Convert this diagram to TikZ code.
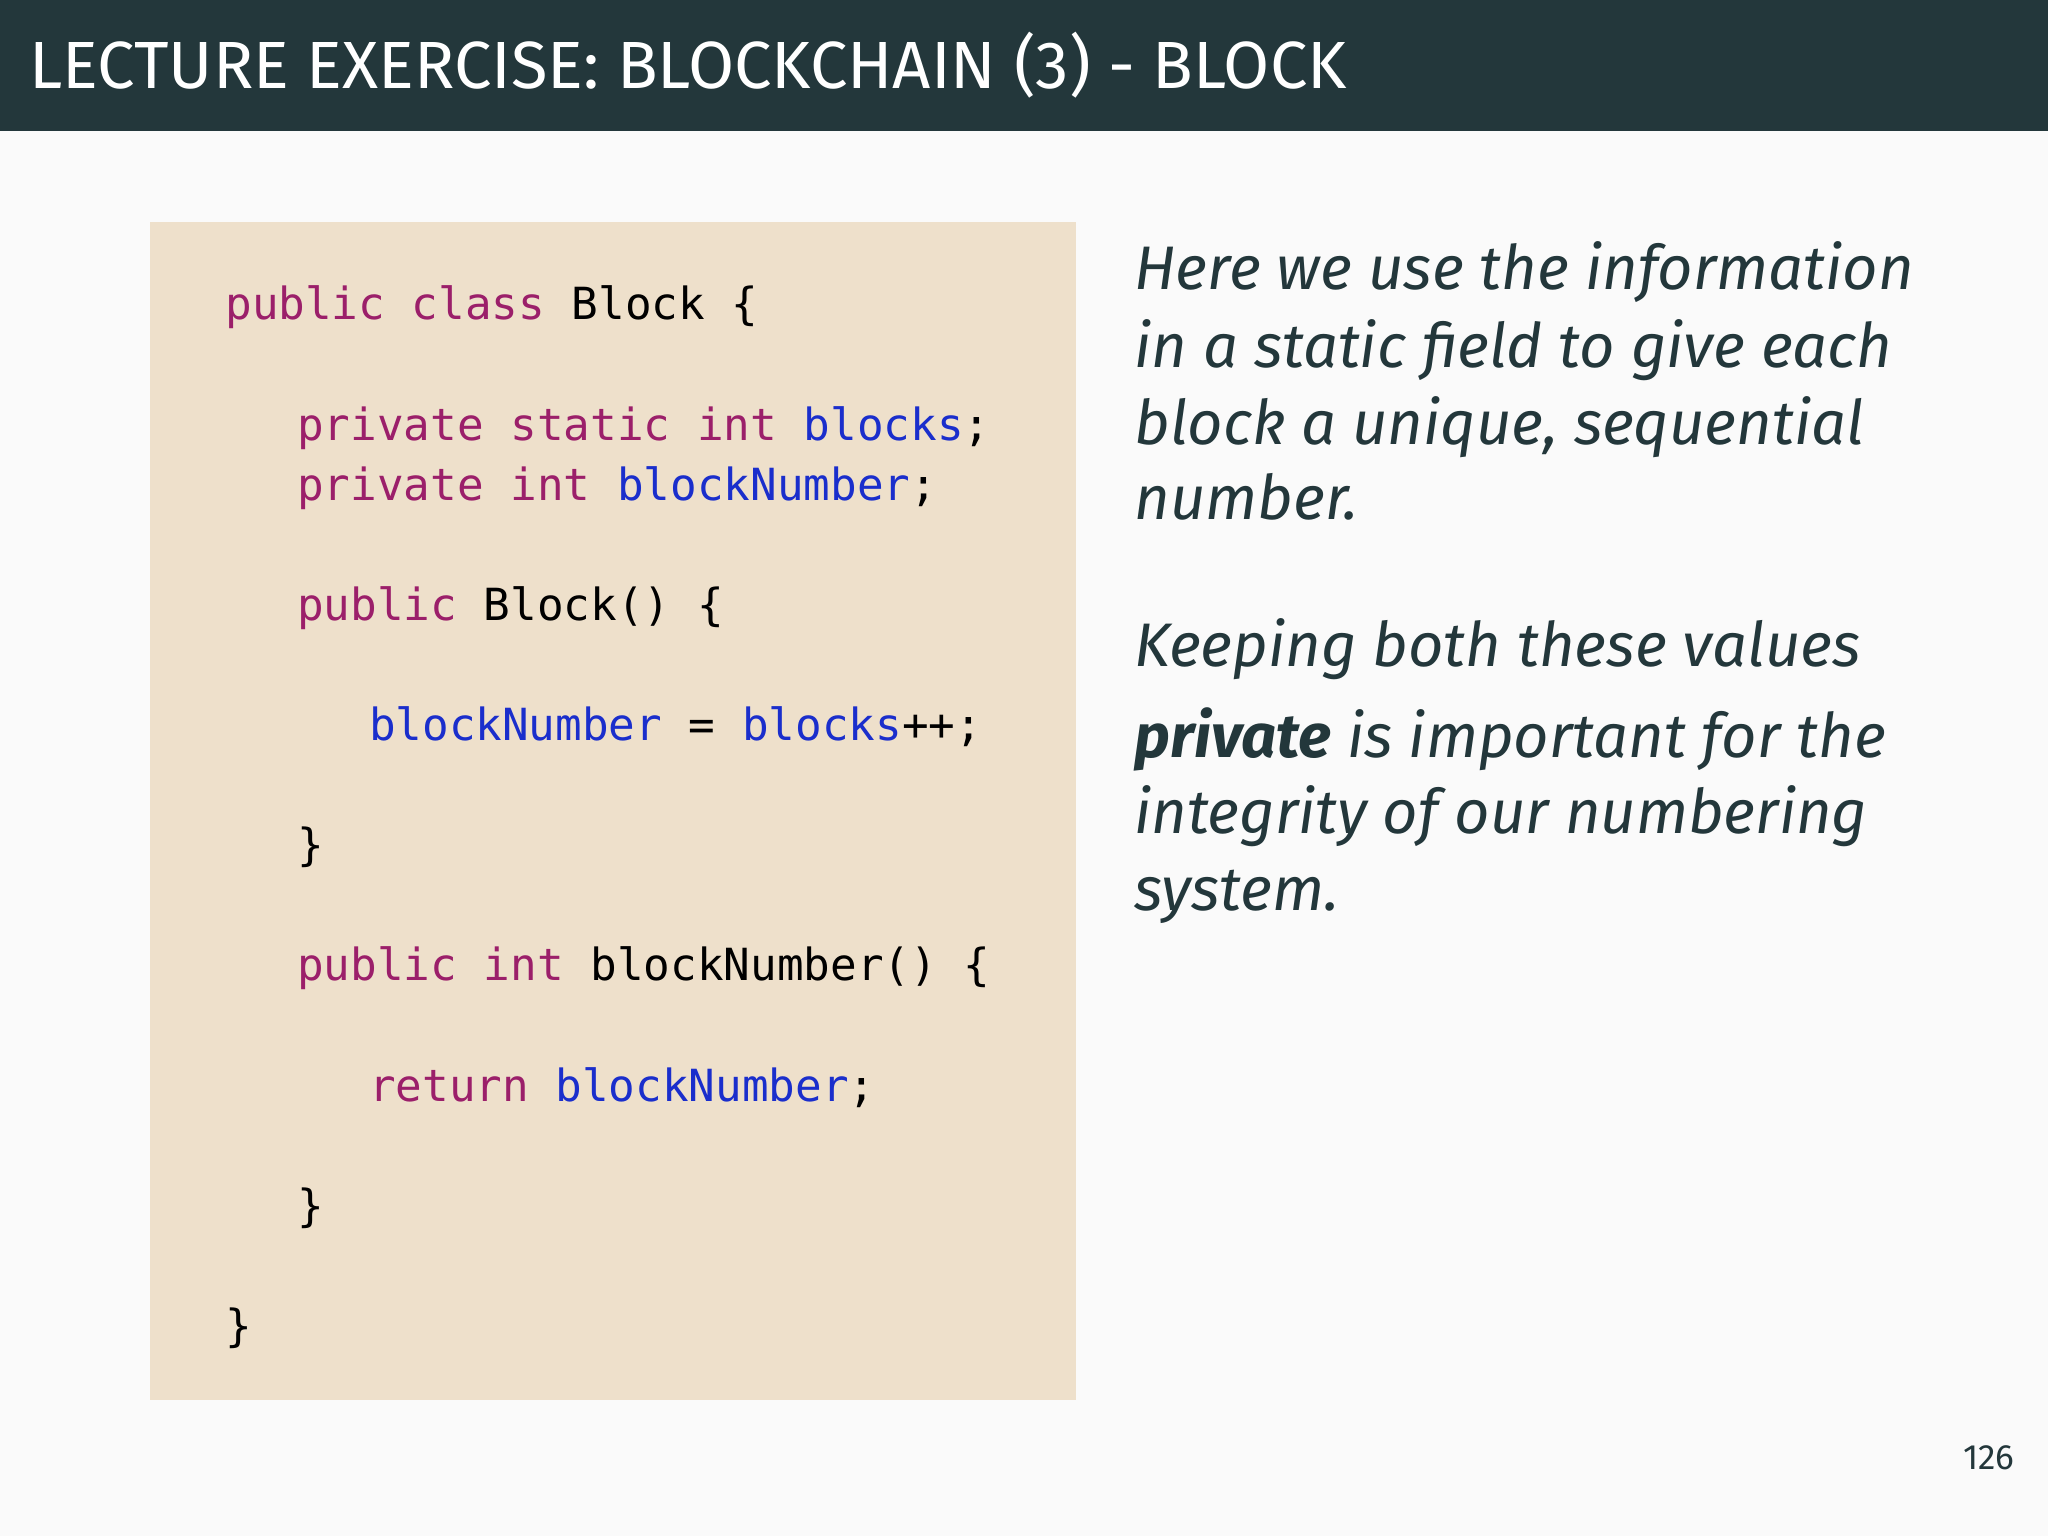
\documentclass[tikz,border=0pt]{standalone}
\usepackage{fontspec}
\setmainfont{Fira Sans}
\setmonofont{DejaVu Sans Mono}
\definecolor{titlebg}{HTML}{23373B}
\definecolor{pagebg}{HTML}{FAFAFA}
\definecolor{codebg}{HTML}{EEE0CB}
\definecolor{kw}{HTML}{9B1F6A}
\definecolor{idn}{HTML}{1A2ECC}
\definecolor{txt}{HTML}{23373B}
\newcommand{\K}[1]{\textcolor{kw}{#1}}
\newcommand{\I}[1]{\textcolor{idn}{#1}}
\begin{document}
\begin{tikzpicture}[x=0.01306cm,y=-0.01306cm,
  code/.style={anchor=base west,inner sep=0,font=\ttfamily\fontsize{12.6}{14}\selectfont,text=black},
  prose/.style={anchor=base west,inner sep=0,font=\itshape\fontsize{17.5}{21}\selectfont,text=txt}]
\useasboundingbox (0,0) rectangle (1568,1176);
\fill[pagebg] (0,0) rectangle (1568,1176);
\fill[titlebg] (0,0) rectangle (1568,100);
\node[anchor=base west,inner sep=0,text=white,font=\fontsize{19}{22}\selectfont] (title) at (22,68) {LECTURE EXERCISE: BLOCKCHAIN (3) - BLOCK};
\fill[codebg] (115,170) rectangle (824,1072);
\node[code] (c1) at (172,245) {\K{public class} Block \{};
\node[code] (c2) at (227,337) {\K{private static int} \I{blocks};};
\node[code] (c3) at (227,383) {\K{private int} \I{blockNumber};};
\node[code] (c4) at (227,475) {\K{public} Block() \{};
\node[code] (c5) at (282,567) {\I{blockNumber} = \I{blocks}++;};
\node[code] (c6) at (227,659) {\}};
\node[code] (c7) at (227,751) {\K{public int} blockNumber() \{};
\node[code] (c8) at (282,843) {\K{return} \I{blockNumber};};
\node[code] (c9) at (227,935) {\}};
\node[code] (c10) at (172,1027) {\}};
\node[prose] (p1) at (868,222) {Here we use the information};
\node[prose] (p2) at (868,281) {in a static field to give each};
\node[prose] (p3) at (868,340) {block a unique, sequential};
\node[prose] (p4) at (868,398) {number.};
\node[prose] (p5) at (868,510) {Keeping both these values};
\node[prose] (p6) at (868,580) {\textbf{private} is important for the};
\node[prose] (p7) at (868,638) {integrity of our numbering};
\node[prose] (p8) at (868,697) {system.};
\node[anchor=base east,inner sep=0,text=txt,font=\fontsize{10}{12}\selectfont] (pg) at (1543,1125) {126};
\end{tikzpicture}
\end{document}
